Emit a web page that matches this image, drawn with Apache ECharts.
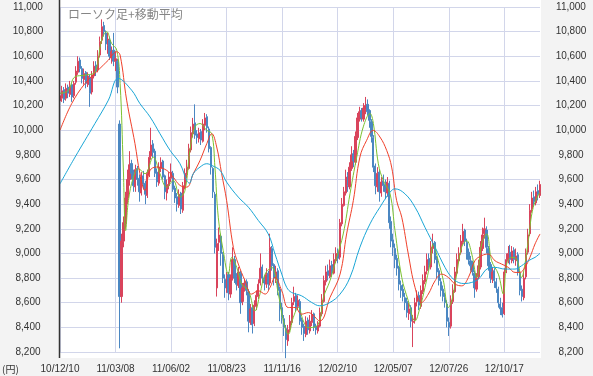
<!DOCTYPE html>
<html>
<head>
<meta charset="utf-8">
<script src="https://cdn.jsdelivr.net/npm/echarts@6.0.0/dist/echarts.min.js"></script>
<style>
    html, body {margin: 0; padding: 0; background: #f3f3f3;}
    #app {width: 593px; height: 376px;}
</style>
</head>
<body>
<div id="app"></div>
<script>
//日付ラベル (28本ごと)
var tickLabels = ['10/12/10', '11/03/08', '11/06/02', '11/08/23', '11/11/16', '12/02/10', '12/05/07', '12/07/26', '12/10/17']
var tickStep = 28

//ローソク足 [始値, 終値, 安値, 高値]
var candles = [
    [10240,10280,10210,10320],[10260,10320,10230,10360],[10330,10250,10220,10350],[10260,10340,10240,10380],
    [10350,10300,10260,10370],[10290,10360,10270,10400],[10370,10270,10230,10380],[10280,10380,10260,10400],
    [10390,10480,10370,10520],[10470,10560,10450,10600],[10570,10500,10470,10590],[10500,10420,10380,10520],
    [10410,10460,10370,10500],[10470,10380,10340,10480],[10370,10440,10350,10470],[10430,10300,10190,10450],
    [10310,10450,10290,10480],[10440,10520,10420,10560],[10530,10480,10440,10560],[10490,10600,10470,10650],
    [10610,10720,10590,10760],[10730,10840,10700,10900],[10850,10800,10760,10880],[10790,10700,10650,10810],
    [10690,10740,10620,10790],[10730,10600,10570,10760],[10590,10640,10540,10680],[10650,10560,10520,10790],
    [10560,10580,10480,10640],[10560,10350,10300,10580],[10050,8650,8230,10080],[8650,9100,8600,9160],
    [9100,9250,9050,9300],[9240,9450,9200,9500],[9450,9600,9400,9680],[9600,9720,9550,9830],
    [9730,9650,9600,9760],[9660,9550,9500,9680],[9540,9680,9500,9720],[9690,9600,9550,9710],
    [9610,9500,9420,9640],[9490,9620,9470,9660],[9630,9560,9520,9670],[9570,9480,9400,9590],
    [9470,9650,9450,9680],[9640,9780,9620,9830],[9790,9880,9760,10020],[9890,9820,9780,9920],
    [9830,9650,9620,9850],[9660,9580,9540,9690],[9570,9700,9550,9740],[9690,9740,9660,9780],
    [9750,9620,9600,9760],[9630,9500,9440,9640],[9490,9560,9430,9600],[9550,9620,9520,9660],
    [9610,9660,9580,9730],[9650,9520,9500,9670],[9530,9450,9410,9550],[9460,9400,9340,9490],
    [9390,9480,9370,9520],[9490,9360,9320,9500],[9350,9550,9330,9580],[9540,9650,9520,9690],
    [9640,9700,9610,9760],[9690,9850,9680,9890],[9840,9980,9820,10030],[9970,10050,9940,10100],
    [10060,9960,9930,10210],[9970,9940,9890,10000],[9930,9980,9900,10020],[9990,9920,9880,10010],
    [9910,10050,9900,10090],[10040,10100,10000,10140],[10110,10020,9980,10130],[10010,9850,9820,10030],
    [9860,9700,9640,9870],[9690,9500,9450,9700],[9480,9050,9000,9500],[8720,9080,8650,9120],
    [9090,9150,9020,9210],[9140,9000,8900,9160],[8990,8800,8760,9010],[8790,8720,8640,8830],
    [8710,8820,8680,8850],[8830,8680,8620,8850],[8670,8800,8640,8830],[8800,8950,8780,9050],
    [8950,8800,8760,8980],[8810,8750,8700,8840],[8740,8850,8720,8890],[8840,8600,8510,8860],
    [8610,8720,8580,8760],[8710,8760,8690,8790],[8770,8700,8660,8790],[8690,8450,8360,8710],
    [8440,8550,8420,8590],[8560,8420,8350,8580],[8430,8580,8410,8620],[8570,8660,8540,8700],
    [8650,8750,8630,8790],[8760,8880,8740,9000],[8890,8800,8760,8910],[8790,8760,8700,8820],
    [8750,8830,8720,8880],[8840,8750,8700,8860],[8760,9050,8740,9160],[9040,8900,8860,9060],
    [8910,8800,8740,8920],[8790,8850,8760,8900],[8860,8700,8660,8880],[8710,8550,8450,8730],
    [8560,8480,8430,8600],[8470,8400,8330,8500],[8390,8300,8150,8420],[8290,8380,8250,8420],
    [8390,8450,8360,8500],[8440,8600,8420,8640],[8610,8650,8580,8730],[8660,8560,8530,8680],
    [8570,8620,8540,8660],[8610,8450,8420,8630],[8460,8400,8340,8480],[8410,8350,8290,8430],
    [8340,8450,8320,8490],[8460,8380,8340,8480],[8370,8450,8350,8500],[8440,8500,8410,8540],
    [8510,8400,8370,8520],[8410,8380,8340,8430],[8370,8420,8350,8450],[8410,8520,8400,8560],
    [8510,8620,8490,8670],[8610,8780,8600,8820],[8770,8850,8740,8900],[8860,8820,8780,8910],
    [8810,8900,8800,8950],[8910,8850,8810,8940],[8840,8950,8830,9000],[8940,9000,8920,9050],
    [9010,8960,8920,9040],[8970,9250,8950,9280],[9240,9400,9220,9450],[9390,9500,9380,9540],
    [9490,9620,9470,9680],[9630,9550,9500,9660],[9540,9700,9520,9740],[9690,9800,9670,9870],
    [9810,9750,9700,9840],[9740,9950,9720,9990],[9940,10100,9920,10140],[10090,10150,10070,10190],
    [10160,10100,10070,10180],[10090,10180,10070,10220],[10170,10200,10130,10270],[10210,10150,10120,10250],
    [10160,10080,10020,10170],[10070,9950,9900,10090],[9940,9700,9660,9960],[9710,9550,9480,9730],
    [9540,9650,9500,9700],[9660,9500,9420,9680],[9490,9580,9460,9620],[9590,9550,9500,9640],
    [9560,9500,9440,9600],[9490,9580,9460,9620],[9570,9250,9200,9590],[9260,9100,9050,9300],
    [9110,9050,8980,9160],[9040,8950,8880,9080],[8960,8880,8820,8990],[8890,8750,8700,8900],
    [8740,8700,8640,8780],[8710,8650,8610,8750],[8640,8600,8540,8680],[8610,8520,8480,8640],
    [8510,8550,8460,8600],[8560,8450,8400,8580],[8440,8450,8240,8500],[8460,8600,8430,8640],
    [8610,8650,8570,8700],[8660,8580,8540,8690],[8570,8700,8550,8740],[8690,8780,8670,8830],
    [8770,8850,8750,8900],[8860,8950,8830,9000],[8960,8900,8860,9000],[8890,9050,8870,9100],
    [9040,9080,9000,9160],[9090,8950,8920,9100],[8960,8850,8800,8980],[8860,8780,8740,8880],
    [8770,8700,8650,8800],[8710,8650,8610,8740],[8640,8600,8560,8680],[8590,8450,8400,8620],
    [8440,8400,8330,8480],[8410,8620,8390,8660],[8610,8700,8590,8750],[8690,8850,8680,8890],
    [8840,8950,8820,9000],[8940,9000,8920,9050],[9010,9100,8990,9150],[9090,9180,9070,9240],
    [9190,9100,9060,9200],[9090,9000,8950,9120],[9010,8950,8910,9040],[8940,8900,8860,8980],
    [8910,8850,8820,8940],[8840,8720,8640,8860],[8710,8800,8690,8840],[8810,8900,8790,8950],
    [8890,9050,8870,9100],[9040,9150,9020,9210],[9160,9200,9120,9290],[9190,9050,9000,9220],
    [9040,8900,8860,9060],[8910,8800,8760,8930],[8790,8850,8760,8890],[8860,8780,8720,8880],
    [8770,8720,8680,8800],[8710,8600,8560,8730],[8590,8550,8500,8640],[8560,8500,8480,8600],
    [8510,8850,8500,8880],[8860,8950,8840,9000],[8940,9000,8920,9060],[9010,8950,8910,9070],
    [8940,9020,8920,9060],[9030,8950,8920,9050],[8940,8980,8900,9040],[8990,8850,8820,9010],
    [8840,8700,8660,8860],[8710,8650,8610,8740],[8640,8800,8620,8850],[8810,9000,8790,9040],
    [9010,9150,8990,9200],[9160,9350,9140,9400],[9360,9450,9330,9500],[9460,9420,9380,9510],
    [9410,9500,9390,9540],[9510,9480,9430,9560],[9470,9560,9450,9590]
]

//移動平均 [位置, 値]
var maShort = [
    [0,10300],[4,10320],[7.6,10434],[12.6,10447],[17.6,10474],[21,10732],[23.5,10800],[26,10705],[28.6,10651],
    [30.3,10379],[31.9,9701],[33.1,9185],[34.5,9430],[37,9619],[39.5,9687],[42.9,9647],
    [47,9782],[50.4,9647],[53.8,9538],[57.1,9592],[60.5,9457],[63,9511],[65.5,9836],[68,10027],
    [70.6,10054],[74,9999],[76.5,9972],[78.1,9701],[79.8,9294],[82.3,9022],[84.9,8832],
    [86.6,8968],[89.1,8887],[91.6,8751],[95,8697],[98.3,8534],[100.8,8670],[103.4,8832],[106.7,8887],
    [110.1,8670],[112.6,8452],[115.1,8344],[117.6,8480],[120.2,8561],[122.7,8452],[125.2,8398],
    [130.2,8425],[132.8,8642],[136.1,8778],[139.5,8968],[142.8,9158],[146.2,9484],[149.6,9782],
    [152.9,10027],[156.3,10135],[158,10054],[160.5,9728],[163,9592],[166.4,9484],[168.9,9185],
    [172.3,8805],[175.6,8615],[179,8452],[181.5,8561],[184,8724],[186.5,8914],[188.2,9077],
    [190.7,8941],[193.3,8778],[195.8,8561],[197.5,8615],[200,8832],[202.5,9050],[205,9104],
    [207.6,8995],[210.1,8805],[212.6,9077],[215.1,9158],[217.6,8941],[221,8832],[223.5,8670],
    [225.2,8914],[227.7,8968],[230.2,8955],[232.7,8805],[234.4,8914],[236.1,9104],[238.6,9375],[242,9497]
]
var maMid = [
    [0,9999],[5.9,10216],[12.6,10379],[19.3,10488],[24.4,10569],[28.6,10637],[30.3,10610],
    [33.6,10244],[37.8,9891],[40.3,9647],[42.8,9511],[45.4,9674],[48.7,9701],[53.8,9674],
    [57.1,9619],[60.5,9552],[63.9,9538],[67.2,9647],[70.6,9755],[74,9891],[76.5,9972],
    [79,9864],[81.5,9647],[84,9430],[87.4,9049],[89.9,8914],[93.3,8778],[96.6,8670],
    [100,8697],[103.4,8670],[105.9,8724],[108.4,8805],[111.8,8697],[115.1,8561],[118.5,8561],
    [121.8,8507],[125.2,8520],[131,8452],[136.1,8642],[141.2,8832],[144.5,9158],[147.9,9430],
    [151.2,9782],[154.6,9918],[157.9,9999],[161.3,9945],[164.7,9836],[167.2,9701],[169.7,9430],
    [172.3,9294],[175.6,8995],[179,8724],[182.3,8602],[185.7,8670],[189.1,8778],[192.4,8832],
    [195.8,8805],[199.2,8751],[202.5,8737],[205.9,8805],[209.2,8941],[212.6,8982],[215.9,8995],
    [219.3,8941],[222.6,8914],[226,8887],[229.4,8846],[231.9,8846],[234.4,8887],[236.9,8968],
    [239.5,9077],[242,9158]
]
var maLong = [
    [0,9565],[7.6,9782],[17.6,10054],[24.4,10244],[29.4,10420],[36.1,10325],[40.3,10216],
    [45.4,10108],[50.4,9972],[55.5,9836],[60.5,9728],[63.9,9592],[65.2,9570],[67.2,9647],
    [70.6,9701],[74,9728],[76.5,9714],[80.7,9674],[84,9579],[89.9,9457],[95,9375],[100,9267],
    [105,9158],[108.4,8995],[111.8,8832],[114.3,8724],[116.8,8683],[121.8,8656],[126.9,8602],
    [131,8575],[136.1,8602],[141.2,8670],[146.2,8805],[151.2,9050],[156.3,9240],[161.3,9375],
    [166.4,9497],[168.9,9524],[173.9,9484],[179,9375],[184,9212],[189.1,9050],[194.1,8887],
    [197.5,8805],[200.8,8765],[204.2,8756],[207.6,8765],[210.9,8790],[215.9,8880],[219.3,8887],
    [224.3,8873],[229.4,8873],[232.7,8900],[236.1,8941],[239.5,8968],[242,9001]
]

var font = '"Liberation Sans", Arial, sans-serif'
var gridColor = '#d2d6ea'

var chart = echarts.init(document.getElementById('app'))

var yAxisBase = (side, margin) => ({
    type: 'value',
    position: side,
    min: 8200,
    max: 11000,
    interval: 200,
    axisLine: {show: false},
    axisTick: {show: false},
    splitLine: {show: side === 'left', lineStyle: {color: gridColor, width: 1}},
    axisLabel: {
        align: 'center',
        margin: margin,
        fontSize: 10,
        fontFamily: font,
        color: '#333',
        formatter: (v) => v.toLocaleString('en-US')
    }
})

var lineSeries = (data, color) => ({
    type: 'line',
    xAxisIndex: 1,
    data: data,
    smooth: 0.4,
    symbol: 'none',
    lineStyle: {color: color, width: 1},
    z: 3
})

chart.setOption({
    animation: false,
    backgroundColor: '#f3f3f3',
    title: {
        text: 'ローソク足+移動平均',
        left: 63,
        top: 3,
        textStyle: {fontSize: 12, fontWeight: 'normal', color: '#858585', fontFamily: '"Noto Sans CJK JP"'}
    },
    grid: {
        left: 60,
        right: 53,
        top: 7,
        bottom: 24,
        show: true,
        backgroundColor: '#fff',
        borderWidth: 0
    },
    xAxis: [
        {
            type: 'category',
            boundaryGap: false,
            data: candles.map((c, i) => String(i)),
            axisLine: {show: false},
            axisTick: {show: false},
            splitLine: {show: true, interval: tickStep - 1, lineStyle: {color: gridColor, width: 1}},
            axisLabel: {
                interval: tickStep - 1,
                margin: 12,
                fontSize: 10,
                fontFamily: font,
                color: '#333',
                formatter: (v, i) => tickLabels[i / tickStep] || ''
            }
        },
        {type: 'value', min: 0, max: candles.length - 1, show: false}
    ],
    yAxis: [yAxisBase('left', 32), yAxisBase('right', 31)],
    graphic: [
        {type: 'rect', z: -1, shape: {x: 60, y: 0, width: 481, height: 7}, style: {fill: '#fff'}},
        {type: 'rect', z: -1, shape: {x: 60, y: 352, width: 481, height: 6}, style: {fill: '#fff'}},
        {type: 'rect', z: -1, shape: {x: 540, y: 0, width: 1, height: 358}, style: {fill: '#fff'}},
        {type: 'line', z: 10, shape: {x1: 59.5, y1: 0, x2: 59.5, y2: 358}, style: {stroke: '#333', lineWidth: 1.5}},
        {type: 'text', x: 2, y: 364, style: {text: '(円)', fill: '#333', fontSize: 10, fontFamily: '"Noto Sans CJK JP"'}}
    ],
    series: [
        {
            type: 'candlestick',
            data: candles,
            clip: false,
            barWidth: 1.7,
            itemStyle: {
                color: '#d9445c',
                color0: '#4b87c2',
                borderColor: '#d9445c',
                borderColor0: '#4b87c2',
                borderWidth: 1
            }
        },
        lineSeries(maShort, '#7cc230'),
        lineSeries(maMid, '#f0402a'),
        lineSeries(maLong, '#1aa6d6')
    ]
})
</script>
</body>
</html>
